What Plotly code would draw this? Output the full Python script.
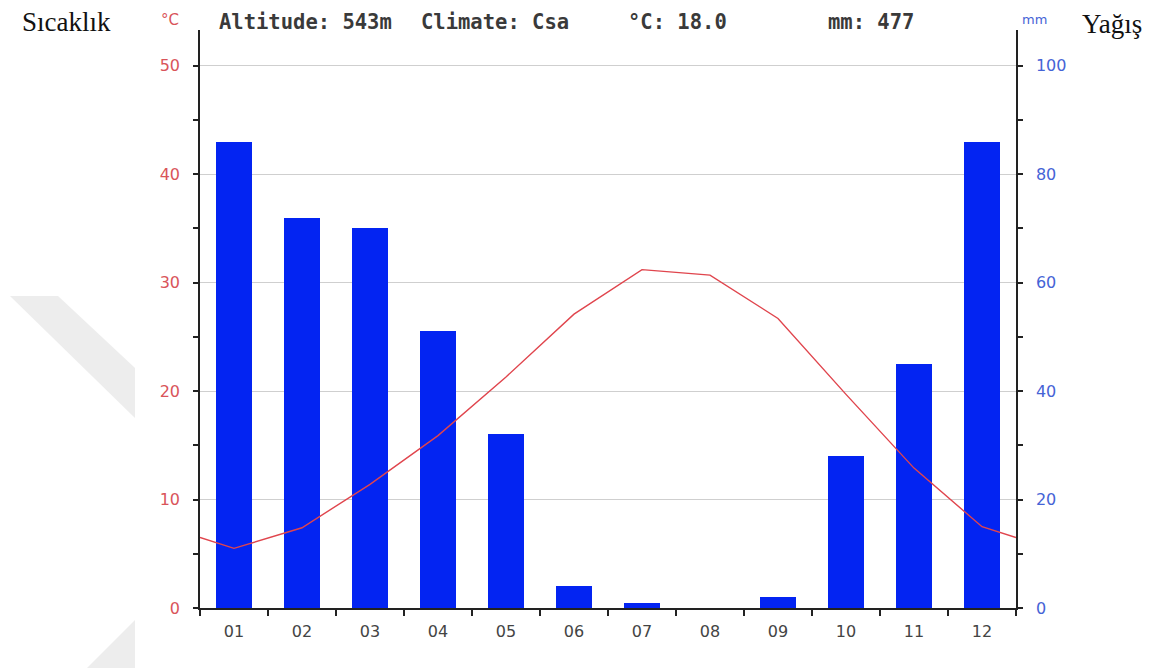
import plotly.graph_objects as go

months = ["01", "02", "03", "04", "05", "06", "07", "08", "09", "10", "11", "12"]
month_pos = [1, 2, 3, 4, 5, 6, 7, 8, 9, 10, 11, 12]
precip_mm = [86, 72, 70, 51, 32, 4, 1, 0, 2, 28, 45, 86]
temp_c = [5.5, 7.4, 11.4, 15.9, 21.3, 27.1, 31.2, 30.7, 26.7, 19.7, 12.9, 7.5]
temp_ticks = [0, 10, 20, 30, 40, 50]
precip_ticks = [0, 20, 40, 60, 80, 100]

# the curve wraps around the year: edge values are the Dec/Jan midpoint
edge = (temp_c[0] + temp_c[-1]) / 2
line_x = [0.5] + month_pos + [12.5]
line_y = [edge] + temp_c + [edge]

W, H = 1162, 668
OFF = 8  # page body margin
L, R, T, B = 200 - OFF, 1016 - OFF, 30 - OFF, 608 - OFF

RED = "#d9545a"
BLUE = "#4563d6"

fig = go.Figure()
fig.add_trace(go.Bar(x=month_pos, y=precip_mm, yaxis="y", width=0.53,
                     marker=dict(color="#0324f2", line=dict(width=0)),
                     showlegend=False, hoverinfo="skip"))
fig.add_trace(go.Scatter(x=line_x, y=line_y, yaxis="y2", mode="lines",
                         line=dict(color="#e0454d", width=1.4),
                         showlegend=False, hoverinfo="skip"))

def px(x):
    return (x - OFF - L) / (R - L)

def py(y):
    return (B - (y - OFF)) / (B - T)

annotations = []
def txt(s, x, y, size, color, family, xanchor="left", weight="normal"):
    annotations.append(dict(text=s, x=px(x), y=py(y), xref="paper", yref="paper",
                            xanchor=xanchor, yanchor="middle", showarrow=False,
                            font=dict(size=size, color=color, family=family, weight=weight)))

txt("Sıcaklık", 20, 22, 27, "#111111", "Liberation Serif")
txt("Yağış", 1080, 24, 27, "#111111", "Liberation Serif")
txt("°C", 159, 20, 15, RED, "DejaVu Sans")
txt("mm", 1020, 20, 13, BLUE, "DejaVu Sans")
mono = "DejaVu Sans Mono"
HDR = "#3a3a3a"
txt("Altitude: 543m", 217, 22, 20.5, HDR, mono, weight="bold")
txt("Climate: Csa", 419, 22, 20.5, HDR, mono, weight="bold")
txt("°C: 18.0", 626, 22, 20.5, HDR, mono, weight="bold")
txt("mm: 477", 826, 22, 20.5, HDR, mono, weight="bold")

shapes = [
    dict(type="path", xref="paper", yref="paper", layer="below",
         path="M {} {} L {} {} L {} {} L {} {} Z".format(px(10), py(296), px(58), py(296),
                                                       px(135), py(368), px(135), py(418)),
         fillcolor="#ededed", line=dict(width=0)),
    dict(type="path", xref="paper", yref="paper", layer="below",
         path="M {} {} L {} {} L {} {} Z".format(px(135), py(620), px(87), py(668),
                                                px(135), py(668)),
         fillcolor="#ededed", line=dict(width=0)),
]

fig.update_layout(
    width=W, height=H,
    margin=dict(l=L, r=W - R, t=T, b=H - B, pad=0),
    paper_bgcolor="white", plot_bgcolor="white",
    bargap=0,
    annotations=annotations, shapes=shapes,
    xaxis=dict(range=[0.5, 12.5], tickvals=month_pos, ticktext=months,
               ticks="", showgrid=False, zeroline=False,
               showline=True, linecolor="#222222", linewidth=1.5,
               tickfont=dict(size=16, color="#444444", family="DejaVu Sans"),
               ticklabelstandoff=8,
               minor=dict(tick0=0.5, dtick=1, ticks="outside", ticklen=6,
                          tickcolor="#222222", tickwidth=1.5, showgrid=False)),
    yaxis=dict(range=[0, 106.6], tickvals=precip_ticks, side="right",
               ticks="outside", ticklen=5, tickcolor="#222222", tickwidth=1.5,
               showgrid=False, zeroline=False,
               showline=True, linecolor="#222222", linewidth=1.5,
               tickfont=dict(size=16, color=BLUE, family="DejaVu Sans"),
               ticklabelstandoff=10,
               minor=dict(dtick=10, ticks="outside", ticklen=5, tickcolor="#222222",
                          tickwidth=1.5, showgrid=False)),
    yaxis2=dict(range=[0, 53.3], tickvals=temp_ticks, overlaying="y", side="left",
                ticks="outside", ticklen=5, tickcolor="#222222", tickwidth=1.5,
                showgrid=True, gridcolor="#cfcfcf", gridwidth=1, zeroline=False,
                showline=True, linecolor="#222222", linewidth=1.5,
                tickfont=dict(size=16, color=RED, family="DejaVu Sans"),
                ticklabelstandoff=10,
                minor=dict(dtick=5, ticks="outside", ticklen=5, tickcolor="#222222",
                           tickwidth=1.5, showgrid=False)),
)

fig.write_html("out.html")
